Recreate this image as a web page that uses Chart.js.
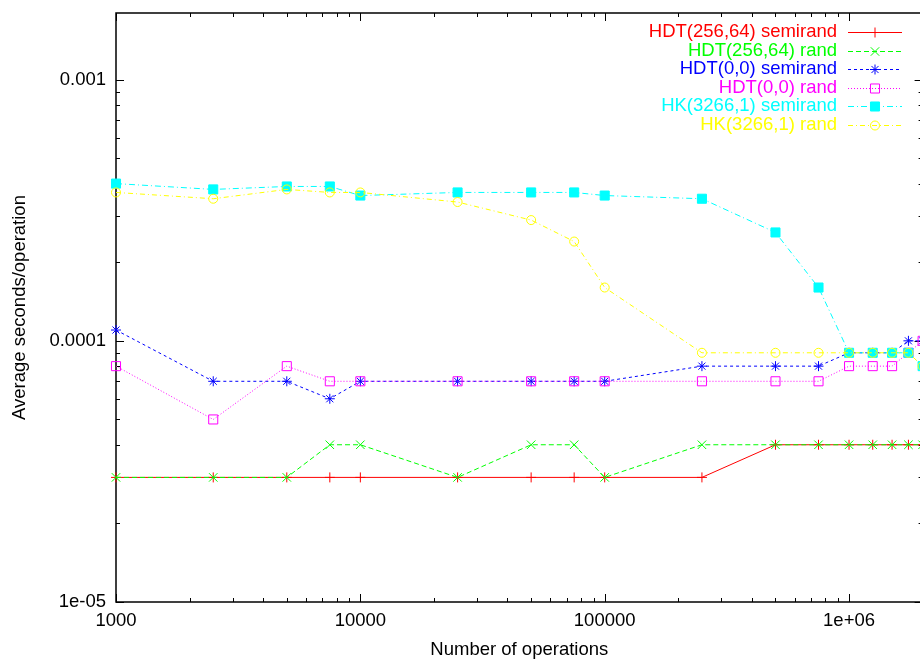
<!DOCTYPE html>
<html>
<head>
<meta charset="utf-8">
<script src="https://cdn.jsdelivr.net/npm/chart.js@4/dist/chart.umd.min.js"></script>
<style>
  html, body { margin: 0; padding: 0; background: #fff; overflow: hidden; }
  #wrap { width: 920px; height: 660px; overflow: hidden; }
</style>
</head>
<body>
<div id="wrap"><canvas id="myChart" width="930" height="660"></canvas></div>
<script>
// number of operations (x) and average seconds/operation per series
const ops = [1000, 2500, 5000, 7500, 10000, 25000, 50000, 75000, 100000, 250000,
             500000, 750000, 1000000, 1250000, 1500000, 1750000, 2000000];

const hdt25664Semi = [3e-5, 3e-5, 3e-5, 3e-5, 3e-5, 3e-5, 3e-5, 3e-5, 3e-5, 3e-5,
                      4e-5, 4e-5, 4e-5, 4e-5, 4e-5, 4e-5, 4e-5];
const hdt25664Rand = [3e-5, 3e-5, 3e-5, 4e-5, 4e-5, 3e-5, 4e-5, 4e-5, 3e-5, 4e-5,
                      4e-5, 4e-5, 4e-5, 4e-5, 4e-5, 4e-5, 4e-5];
const hdt00Semi = [1.1e-4, 7e-5, 7e-5, 6e-5, 7e-5, 7e-5, 7e-5, 7e-5, 7e-5, 8e-5,
                   8e-5, 8e-5, 9e-5, 9e-5, 9e-5, 1e-4, 1e-4];
const hdt00Rand = [8e-5, 5e-5, 8e-5, 7e-5, 7e-5, 7e-5, 7e-5, 7e-5, 7e-5, 7e-5,
                   7e-5, 7e-5, 8e-5, 8e-5, 8e-5, 9e-5, 1e-4];
const hkSemi = [4e-4, 3.8e-4, 3.9e-4, 3.9e-4, 3.6e-4, 3.7e-4, 3.7e-4, 3.7e-4, 3.6e-4, 3.5e-4,
                2.6e-4, 1.6e-4, 9e-5, 9e-5, 9e-5, 9e-5, 8e-5];
const hkRand = [3.7e-4, 3.5e-4, 3.8e-4, 3.7e-4, 3.7e-4, 3.4e-4, 2.9e-4, 2.4e-4, 1.6e-4, 9e-5,
                9e-5, 9e-5, 9e-5, 9e-5, 9e-5, 9e-5, 8e-5];

const seriesLabels = ["HDT(256,64) semirand", "HDT(256,64) rand", "HDT(0,0) semirand",
                      "HDT(0,0) rand", "HK(3266,1) semirand", "HK(3266,1) rand"];

const xMin = 1000, xMax = 2000000;
const yMin = 1e-5, yMax = 0.0018;

const FONT = "'Liberation Sans', Arial, Helvetica, sans-serif";
const FSIZE = 18.5;
Chart.defaults.font.family = FONT;
Chart.defaults.font.size = FSIZE;
Chart.defaults.color = "#000";

const none = "rgba(0,0,0,0)";

function makeSet(i, values, color, dash, style, radius, fill) {
  return {
    label: seriesLabels[i],
    data: ops.map((x, k) => ({ x: x, y: values[k] })),
    borderColor: color,
    borderWidth: 1,
    borderDash: dash,
    pointStyle: style,
    pointRadius: radius,
    pointHoverRadius: radius,
    pointBorderColor: color,
    pointBorderWidth: 1,
    pointBackgroundColor: fill ? color : none,
    backgroundColor: fill ? color : none,
    fill: false,
    tension: 0,
    clip: false,
    order: -i, // later series drawn on top, like gnuplot
  };
}

const datasets = [
  makeSet(0, hdt25664Semi, "#ff0000", [], "cross", 5, false),
  makeSet(1, hdt25664Rand, "#00ff00", [5, 3], "crossRot", 6, false),
  makeSet(2, hdt00Semi, "#0000ff", [3, 3], "star", 5, false),
  makeSet(3, hdt00Rand, "#ff00ff", [1, 2], "rect", 6.4, false),
  makeSet(4, hkSemi, "#00ffff", [6, 3, 1, 3], "rect", 6.4, true),
  makeSet(5, hkRand, "#ffff00", [5, 3, 1, 3], "circle", 4.5, false),
];

function isDecade(v) {
  const l = Math.log10(v);
  return Math.abs(l - Math.round(l)) < 1e-9;
}

// gnuplot style %g labels
function fmtG(v) {
  const e = Math.round(Math.log10(v));
  if (e < -4 || e >= 6) {
    return "1e" + (e < 0 ? "-" : "+") + String(Math.abs(e)).padStart(2, "0");
  }
  return String(Math.pow(10, e));
}

// border and inward tick marks on all four sides
const frame = {
  id: "frame",
  beforeDatasetsDraw(chart) {
    const { ctx, chartArea: a, scales } = chart;
    ctx.save();
    ctx.strokeStyle = "#000";
    ctx.lineWidth = 1.5;
    ctx.strokeRect(a.left, a.top, a.right - a.left, a.bottom - a.top);
    ctx.lineWidth = 1;
    ctx.beginPath();
    for (let e = 3; e <= 6; e++) {
      for (let m = 1; m <= 9; m++) {
        const v = m * Math.pow(10, e);
        if (v < xMin || v > xMax) continue;
        const px = Math.round(scales.x.getPixelForValue(v)) + 0.5;
        const len = m === 1 ? 8 : 4;
        ctx.moveTo(px, a.bottom); ctx.lineTo(px, a.bottom - len);
        ctx.moveTo(px, a.top); ctx.lineTo(px, a.top + len);
      }
    }
    for (let e = -5; e <= -3; e++) {
      for (let m = 1; m <= 9; m++) {
        const v = m * Math.pow(10, e);
        if (v < yMin || v > yMax) continue;
        const py = Math.round(scales.y.getPixelForValue(v)) + 0.5;
        const len = m === 1 ? 8 : 4;
        ctx.moveTo(a.left, py); ctx.lineTo(a.left + len, py);
        ctx.moveTo(a.right, py); ctx.lineTo(a.right - len, py);
      }
    }
    ctx.stroke();
    ctx.restore();
  },
};

// key in the top right corner: text right aligned, sample to the right
const key = {
  id: "key",
  afterDatasetsDraw(chart) {
    const ctx = chart.ctx;
    const textRight = 837, lineL = 848, lineR = 902, top = 32, step = 18.6;
    ctx.save();
    ctx.font = FSIZE + "px " + FONT;
    ctx.textAlign = "right";
    ctx.textBaseline = "middle";
    chart.data.datasets.forEach((ds, i) => {
      const y = top + i * step;
      ctx.fillStyle = ds.borderColor;
      ctx.fillText(ds.label, textRight, y);
      ctx.strokeStyle = ds.borderColor;
      ctx.lineWidth = 1;
      ctx.setLineDash(ds.borderDash);
      ctx.beginPath();
      ctx.moveTo(lineL, Math.round(y) + 0.5);
      ctx.lineTo(lineR, Math.round(y) + 0.5);
      ctx.stroke();
      ctx.setLineDash([]);
      ctx.fillStyle = ds.pointBackgroundColor;
      Chart.helpers.drawPoint(ctx, {
        pointStyle: ds.pointStyle,
        radius: ds.pointRadius,
        rotation: 0,
        borderWidth: 1,
      }, (lineL + lineR) / 2, Math.round(y) + 0.5);
    });
    ctx.restore();
  },
};

const ctx = document.getElementById("myChart");

new Chart(ctx, {
  type: "line",
  data: { datasets: datasets },
  options: {
    responsive: false,
    animation: false,
    devicePixelRatio: 1,
    layout: { padding: { top: 13, right: 7, left: 0, bottom: 0 } },
    scales: {
      x: {
        type: "logarithmic",
        min: xMin,
        max: xMax,
        grid: { display: false, drawTicks: false },
        border: { display: false },
        ticks: {
          autoSkip: false,
          maxRotation: 0,
          padding: 8,
          callback: (v) => (isDecade(v) ? fmtG(v) : ""),
        },
        title: {
          display: true,
          text: "Number of operations",
          font: { size: FSIZE, lineHeight: 1 },
          padding: { top: 0, bottom: 1 },
        },
        afterFit: (s) => { s.height = 58; s.paddingLeft = 0; s.paddingRight = 0; },
      },
      y: {
        type: "logarithmic",
        min: yMin,
        max: yMax,
        grid: { display: false, drawTicks: false },
        border: { display: false },
        ticks: {
          autoSkip: false,
          padding: 10,
          callback: (v) => (isDecade(v) ? fmtG(v) : ""),
        },
        title: {
          display: true,
          text: "Average seconds/operation",
          font: { size: FSIZE, lineHeight: 1 },
          padding: { top: 11, bottom: 0 },
        },
        afterFit: (s) => { s.width = 116; s.paddingTop = 0; s.paddingBottom = 0; },
      },
    },
    plugins: {
      legend: { display: false },
      tooltip: { enabled: false },
    },
  },
  plugins: [frame, key],
});
</script>
</body>
</html>
